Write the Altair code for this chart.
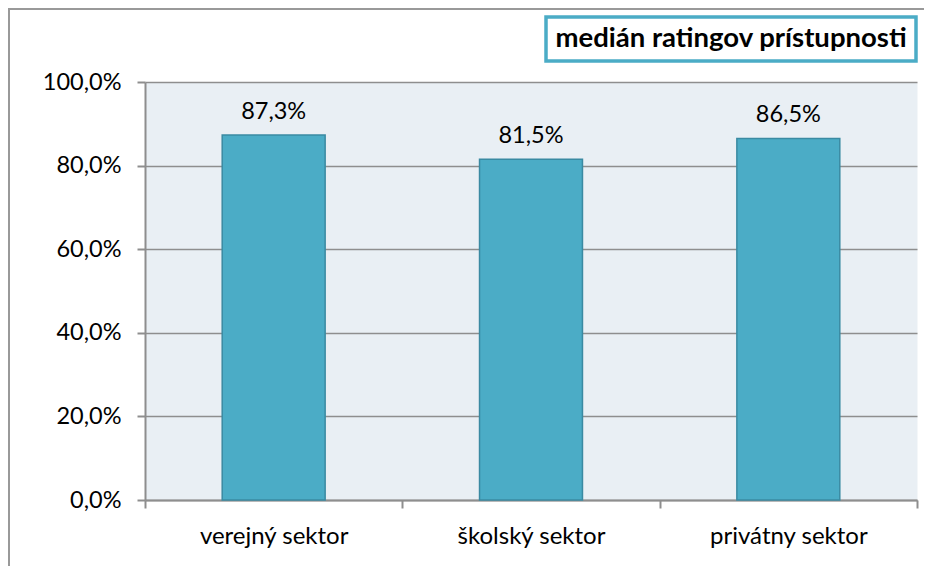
import altair as alt
import pandas as pd

categories = ["verejný sektor", "školský sektor", "privátny sektor"]
values = [87.3, 81.5, 86.5]
labels = ["87,3%", "81,5%", "86,5%"]
series_name = "medián ratingov prístupnosti"
y_ticks = [0, 20, 40, 60, 80, 100]

df = pd.DataFrame({
    "sektor": categories,
    "hodnota": values,
    "label": labels,
    "seria": [series_name] * len(categories),
})

W, H = 772, 418
FONT = "Lato"
GRAY = "#8E8E8E"

x_enc = alt.X(
    "sektor:N", sort=categories,
    scale=alt.Scale(paddingInner=0, paddingOuter=0),
    axis=alt.Axis(title=None, labelAngle=0, tickBand="extent", grid=False,
                  labelFontSize=24, labelPadding=16, tickSize=8),
)
y_enc = alt.Y(
    "hodnota:Q", scale=alt.Scale(domain=[0, 100]),
    axis=alt.Axis(title=None, values=y_ticks, grid=True, tickSize=8,
                  labelFontSize=23.5, labelPadding=16,
                  labelExpr="replace(format(datum.value, '.1f'), '.', ',') + '%'"),
)

frame = alt.Chart(pd.DataFrame({"f": [0]})).mark_rect(
    filled=False, stroke="#999999", strokeWidth=2, clip=False
).encode(
    x=alt.value(-136), y=alt.value(-73), x2=alt.value(W + 60), y2=alt.value(H + 150)
)

bars = alt.Chart(df).mark_bar(
    width=alt.RelativeBandSize(0.4), stroke="#3A8AA2", strokeWidth=1.5
).encode(
    x=x_enc, y=y_enc,
    color=alt.Color(
        "seria:N", scale=alt.Scale(range=["#4BACC6"]),
        legend=alt.Legend(
            title=None, orient="none", legendX=401, legendY=-65,
            symbolSize=0, symbolOpacity=0, symbolStrokeWidth=0,
            labelOffset={"expr": "-26"},
            labelFont=FONT, labelFontWeight="bold", labelFontSize=27.5,
            labelColor="black", labelLimit=0, padding=8,
            strokeColor="#4BACC6", fillColor="white",
        ),
    ),
)

text = alt.Chart(df).mark_text(
    font=FONT, fontSize=23.5, baseline="alphabetic", dy=-16, color="black"
).encode(x=x_enc, y=y_enc, text="label:N")

chart = alt.layer(frame, bars, text).properties(
    width=W, height=H,
    autosize=alt.AutoSizeParams(type="none"),
    padding={"left": 137, "top": 74, "right": 7, "bottom": 66},
    background="white",
).configure_view(
    fill="#E9EFF4", stroke="transparent"
).configure_axis(
    labelFont=FONT, labelColor="black", domainColor=GRAY, domainWidth=2,
    tickColor=GRAY, tickWidth=2, gridColor=GRAY, gridWidth=1.5,
).configure_legend(
    strokeWidth=3.5
)

chart.save("out.html", embed_options={"renderer": "svg", "actions": False})
